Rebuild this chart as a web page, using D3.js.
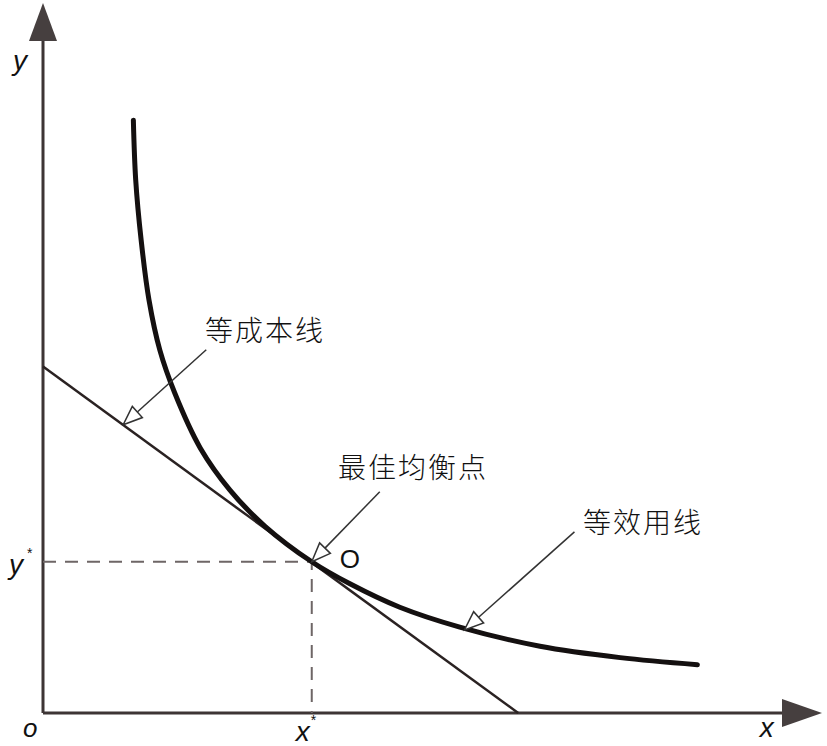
<!DOCTYPE html>
<meta charset="utf-8">
<style>
  body { margin: 0; background: #fff; }
  .cn { font-family: "Noto Sans CJK SC", sans-serif; font-size: 28px; font-weight: 300; fill: #111; letter-spacing: 2px; }
  .lat { font-family: "Liberation Sans", Arial, sans-serif; fill: #111; }
</style>
<svg width="827" height="746"></svg>
<script src="https://d3js.org/d3.v7.min.js"></script>
<script>

// indifference (iso-utility) curve
var curveX = [1.16, 1.19, 1.26, 1.36, 1.50, 1.69, 2.02, 2.40, 2.85, 3.45, 3.94, 4.58, 5.35, 6.38, 7.41, 8.40];
var curveY = [8.35, 7.51, 6.66, 5.82, 5.11, 4.51, 3.73, 3.14, 2.63, 2.13, 1.82, 1.49, 1.21, 0.94, 0.78, 0.68];

// iso-cost line: intercepts on the two axes
var costX = [0, 6.10];
var costY = [4.88, 0];

// optimum point
var eqX = 3.45, eqY = 2.13;

// annotation labels and the point each arrow points at
var noteLabels = ["等成本线", "最佳均衡点", "等效用线"];
var noteTargetX = [1.03, 3.45, 5.41];
var noteTargetY = [4.06, 2.13, 1.17];

var svg = d3.select("svg");

var x = d3.scaleLinear().domain([0, 10]).range([43, 822]);
var y = d3.scaleLinear().domain([0, 10]).range([713, 3]);

var axisColor = "#3d3535";

// axes
svg.append("line")
    .attr("x1", x(0)).attr("y1", y(0))
    .attr("x2", x(0)).attr("y2", y(9.5))
    .attr("stroke", axisColor).attr("stroke-width", 3);
svg.append("line")
    .attr("x1", x(0)).attr("y1", y(0))
    .attr("x2", x(9.55)).attr("y2", y(0))
    .attr("stroke", axisColor).attr("stroke-width", 3);

// arrow heads at the axis ends
svg.append("path")
    .attr("d", "M" + x(0) + "," + y(10) + "L" + (x(0) - 14) + "," + (y(10) + 38) + "L" + (x(0) + 14) + "," + (y(10) + 38) + "Z")
    .attr("fill", "#463f3f");
svg.append("path")
    .attr("d", "M" + x(10) + "," + y(0) + "L" + (x(10) - 40) + "," + (y(0) - 14) + "L" + (x(10) - 40) + "," + (y(0) + 14) + "Z")
    .attr("fill", "#463f3f");

// dashed guides to the optimum
svg.append("path")
    .attr("d", "M" + x(0) + "," + y(eqY) + "H" + x(eqX) + "V" + y(0))
    .attr("fill", "none")
    .attr("stroke", "#6e6666")
    .attr("stroke-width", 2)
    .attr("stroke-dasharray", "13,9");

// iso-cost line
svg.append("line")
    .attr("x1", x(costX[0])).attr("y1", y(costY[0]))
    .attr("x2", x(costX[1])).attr("y2", y(costY[1]))
    .attr("stroke", "#2a2222").attr("stroke-width", 2.5);

// iso-utility curve
var line = d3.line()
    .x(function(d) { return x(d[0]); })
    .y(function(d) { return y(d[1]); })
    .curve(d3.curveCatmullRom.alpha(0.5));

svg.append("path")
    .datum(d3.zip(curveX, curveY))
    .attr("d", line)
    .attr("fill", "none")
    .attr("stroke", "#141010")
    .attr("stroke-width", 5)
    .attr("stroke-linecap", "round");

// annotation arrows: tail offset (px) from tip, and text anchor
var tails = [[83, -75], [68, -70], [110, -98]];
var textPos = [[205, 341], [338, 478], [583, 533]];

noteLabels.forEach(function(label, i) {
  var tx = x(noteTargetX[i]), ty = y(noteTargetY[i]);
  var sx = tx + tails[i][0], sy = ty + tails[i][1];
  var len = Math.sqrt(tails[i][0] * tails[i][0] + tails[i][1] * tails[i][1]);
  var ux = tails[i][0] / len, uy = tails[i][1] / len;
  var hl = 19, hw = 7.5;
  var bx = tx + ux * hl, by = ty + uy * hl;

  svg.append("line")
      .attr("x1", sx).attr("y1", sy)
      .attr("x2", bx).attr("y2", by)
      .attr("stroke", "#333").attr("stroke-width", 1.5);

  svg.append("path")
      .attr("d", "M" + tx + "," + ty +
                 "L" + (bx - uy * hw) + "," + (by + ux * hw) +
                 "L" + (bx + uy * hw) + "," + (by - ux * hw) + "Z")
      .attr("fill", "#fff")
      .attr("stroke", "#333")
      .attr("stroke-width", 1.5);

  svg.append("text")
      .attr("class", "cn")
      .attr("x", textPos[i][0])
      .attr("y", textPos[i][1])
      .text(label);
});

// axis labels
function lab(t, px, py, size, italic) {
  return svg.append("text")
      .attr("class", "lat")
      .attr("x", px).attr("y", py)
      .attr("font-size", size)
      .attr("font-style", italic ? "italic" : "normal")
      .text(t);
}

lab("y", x(0) - 30, y(9.05), 28, true);
lab("o", x(0) - 20, y(0) + 24, 26, true);
lab("x", x(9.2), y(0) + 24, 28, true);
lab("y", x(0) - 34, y(eqY) + 12, 28, true);
lab("*", x(0) - 16, y(eqY) - 4, 14, false);
lab("x", x(eqX) - 16, y(0) + 28, 28, true);
lab("*", x(eqX) - 1, y(0) + 12, 14, false);
lab("O", x(eqX) + 28, y(eqY) + 6, 26, false);

</script>
